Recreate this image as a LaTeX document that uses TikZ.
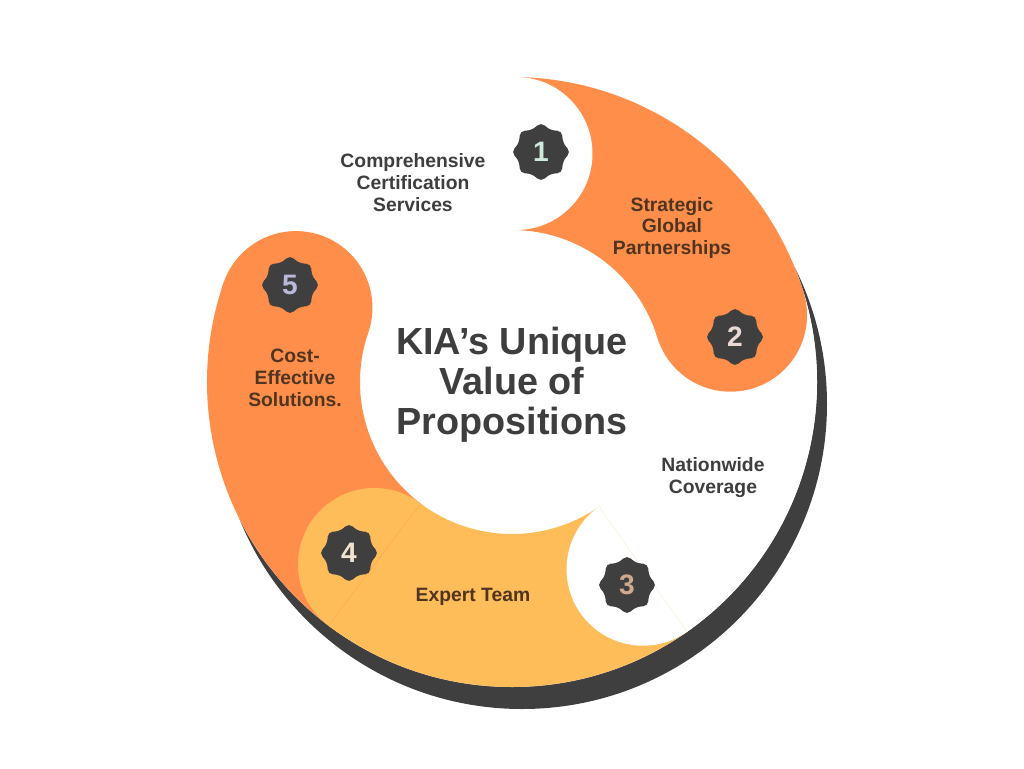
\documentclass[tikz,border=0pt]{standalone}
\usepackage{fontspec}
\setmainfont{Liberation Sans}
\usetikzlibrary{shapes.geometric}
\definecolor{kiaorange}{HTML}{FF8E4B}
\definecolor{kiayellow}{HTML}{FFBD5A}
\definecolor{kiadark}{HTML}{3F3F3F}
\definecolor{kiabrown}{HTML}{4F3520}
\definecolor{kiagray}{HTML}{3E3E3E}
\definecolor{kiamint}{HTML}{CDEBDC}
\definecolor{kiapink}{HTML}{EAD9D5}
\definecolor{kiatan}{HTML}{D1A98F}
\definecolor{kiacream}{HTML}{F1E3CF}
\definecolor{kialav}{HTML}{B9BAD9}

\begin{document}
\begin{tikzpicture}[x=0.02cm,y=0.02cm,
    badge/.style={star,star points=8,star point ratio=1.28,minimum size=1.2cm,inner sep=0pt,
      fill=kiadark,rounded corners=3pt,font=\fontsize{16}{16}\selectfont\bfseries},
    itemtext/.style={align=center,font=\fontsize{11}{12.5}\selectfont\bfseries},
    seam/.style={line width=0.2pt}]
  \useasboundingbox (-512,-386) rectangle (512,382);
  \fill[kiadark] (10,-22) circle (305);
  \fill[white] (0,0) circle (305);
  \foreach \a/\b/\c in {161/89/white,89/17/kiaorange,17/-55/white,-55/-127/kiayellow,-127/-199/kiaorange}
    \fill[\c] (\a:305) arc[start angle=\a,end angle=\b,radius=305] -- (\b:152)
      arc[start angle=\b,end angle=\a,radius=152] -- cycle;
  \foreach \b/\c in {89/white,17/kiaorange,-55/white,-127/kiayellow,-199/kiaorange}
    \fill[\c] (\b:228.5) circle (76.5);
  \draw[seam,kiayellow!35] (-55:152) -- (-55:305);
  \draw[seam,kiaorange!60!kiayellow] (-127:152) -- (-127:305);

  \node[badge,text=kiamint] (b1) at (29,230) {1};
  \node[badge,text=kiapink] (b2) at (223,45) {2};
  \node[badge,text=kiatan] (b3) at (115,-203) {3};
  \node[badge,text=kiacream] (b4) at (-163,-171) {4};
  \node[badge,text=kialav] (b5) at (-222,97) {5};

  \node[align=center,text=kiagray,font=\fontsize{21.5}{22.8}\selectfont\bfseries] (title) at (0,-3)
    {KIA’s Unique\\Value of\\Propositions};
  \node[itemtext,text=kiagray] (t1) at (-99,199) {Comprehensive\\Certification\\Services};
  \node[itemtext,text=kiabrown] (t2) at (160,154) {Strategic\\Global\\Partnerships};
  \node[itemtext,text=kiagray] (t3) at (201,-96) {Nationwide\\Coverage};
  \node[itemtext,text=kiabrown] (t4) at (-39,-215) {Expert Team};
  \node[itemtext,text=kiabrown] (t5) at (-217,4) {Cost-\\Effective\\Solutions.};
\end{tikzpicture}
\end{document}
